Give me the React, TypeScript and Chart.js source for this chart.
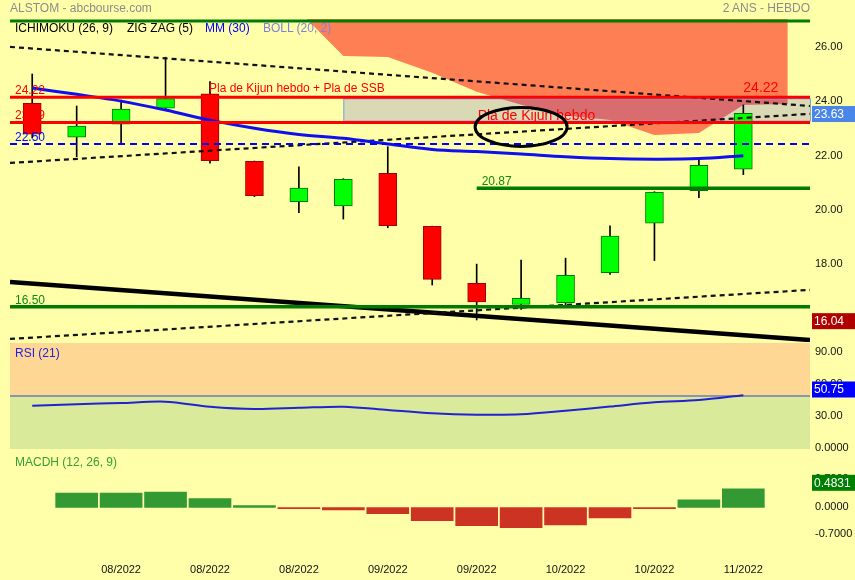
import React, { useEffect, useRef } from "react";
import { Chart, registerables } from "chart.js";

Chart.register(...registerables);

const FONT = '"Liberation Sans", Arial, Helvetica, sans-serif';
const BG = "#FFFFAA";
Chart.defaults.font.family = FONT;

// ---------- data ----------
const weekLabels = [
  "07/2022", "07/2022", "08/2022", "08/2022", "08/2022", "08/2022", "08/2022", "09/2022", "09/2022",
  "09/2022", "09/2022", "10/2022", "10/2022", "10/2022", "10/2022", "10/2022", "11/2022",
];
const opens = [24.0, 22.75, 23.23, 23.82, 24.35, 21.86, 20.37, 20.22, 21.42, 19.46, 17.36, 16.58, 16.65, 17.75, 19.58, 20.78, 21.57];
const highs = [25.08, 23.9, 24.12, 25.7, 24.8, 21.87, 21.66, 21.22, 22.4, 19.47, 18.07, 18.22, 18.29, 19.48, 20.74, 21.91, 23.94];
const lows = [22.72, 22.03, 22.53, 23.75, 21.79, 20.56, 19.97, 19.73, 19.41, 17.3, 16.01, 16.4, 16.56, 17.69, 18.2, 20.52, 21.37];
const closes = [22.86, 23.16, 23.79, 24.17, 21.88, 20.59, 20.87, 21.2, 19.49, 17.51, 16.68, 16.81, 17.66, 19.1, 20.72, 21.71, 23.63];
const mm30 = [24.56, 24.33, 24.08, 23.75, 23.38, 23.08, 22.85, 22.71, 22.5, 22.3, 22.22, 22.13, 22.03, 21.96, 21.94, 21.96, 22.07];
const rsi21 = [40.8, 42.2, 43.4, 44.6, 39.9, 37.7, 38.8, 39.9, 36.8, 33.7, 32.4, 32.7, 36.0, 40.0, 44.0, 46.2, 50.75];
const macdhStart = 1;
const macdh = [0.37, 0.37, 0.4, 0.23, 0.05, -0.03, -0.06, -0.16, -0.34, -0.47, -0.52, -0.45, -0.27, -0.03, 0.2, 0.4831];
const cloudStart = 6;
const cloudUpper = [28.5, 28.5, 28.5, 28.5, 28.5, 28.5, 28.5, 28.5, 28.5, 28.5, 28.5, 28.5];
const cloudLower = [27.4, 25.74, 25.71, 25.13, 24.43, 23.95, 23.55, 23.38, 22.83, 22.9, 23.94, 23.97];
const kijunLevel = 24.22;
const ssbLevel = 23.29;
const blueLevel = 22.5;
const supportLow = 16.5;
const supportMid = 20.87;
const supportMidStart = 10;
const topLevel = 27.03;
const zoneStart = 7;
const channelTop = [26.08, 23.9];
const channelMid = [21.8, 23.61];
const channelLow = [15.31, 17.12];
const zigzagLine = [17.41, 15.27];
const lastClose = 23.63;
const lowMark = 16.04;
const lastHighLabel = 24.22;
const rsiLast = 50.75;
const macdLast = 0.4831;
const xTickIdx = [2, 4, 6, 8, 10, 12, 14, 16];
const priceTicks = [18, 20, 22, 24, 26];
const rsiTicks = [0, 30, 60, 90];
const macdTicks = [-0.7, 0, 0.7];

const X0 = -0.5;
const X1 = 17.5;

// ---------- helpers ----------
const xAxis = (display: boolean) => ({
  type: "linear" as const,
  min: X0,
  max: X1,
  offset: false,
  display,
  grid: { display: false, drawTicks: false },
  border: { display: false },
  ticks: {
    autoSkip: false,
    maxRotation: 0,
    padding: 3,
    color: "#111",
    font: { size: 11, family: FONT },
    callback: (v: any) => weekLabels[v as number] ?? "",
  },
  afterBuildTicks: (s: any) => {
    s.ticks = xTickIdx.map((v) => ({ value: v }));
  },
  afterFit: (s: any) => {
    s.paddingLeft = 0;
    s.paddingRight = 0;
    if (display) s.height = 20;
  },
});

const yAxis = (min: number, max: number, ticks: number[], fmt: (v: number) => string, labelOffset: number) => ({
  type: "linear" as const,
  position: "right" as const,
  min,
  max,
  grid: { display: false, drawTicks: false },
  border: { display: false },
  ticks: {
    padding: 5,
    labelOffset,
    color: "#111",
    font: { size: 11, family: FONT },
    callback: (v: any) => fmt(Number(v)),
  },
  afterBuildTicks: (s: any) => {
    s.ticks = ticks.map((v) => ({ value: v }));
  },
  afterFit: (s: any) => {
    s.width = 45;
    s.paddingTop = 0;
    s.paddingBottom = 0;
  },
});

const span = (y: number, from = X0) => [
  { x: from, y },
  { x: X1, y },
];
const seg = (ab: number[]) => [
  { x: X0, y: ab[0] },
  { x: X1, y: ab[1] },
];

const lineDs = (label: string, data: any[], color: string, width: number, order: number, dash: number[] = [], tension = 0) => ({
  type: "line" as const,
  label,
  data,
  borderColor: color,
  borderWidth: width,
  borderDash: dash,
  pointRadius: 0,
  fill: false,
  tension,
  order,
});

const valueBox = (ctx: CanvasRenderingContext2D, area: any, y: number, text: string, color: string) => {
  ctx.save();
  ctx.fillStyle = color;
  ctx.fillRect(area.right + 2, y - 8, 45, 16);
  ctx.fillStyle = "#fff";
  ctx.font = `12px ${FONT}`;
  ctx.textBaseline = "middle";
  ctx.textAlign = "left";
  ctx.fillText(text, area.right + 4, y + 0.5);
  ctx.restore();
};

// ---------- price chart ----------
function priceConfig(): any {
  const up = closes.map((c, i) => c >= opens[i]);
  const zonePlugin = {
    id: "zone",
    afterDatasetDraw(chart: any, args: any) {
      if (args.index !== 1) return;
      const { ctx, chartArea, scales } = chart;
      const x0 = scales.x.getPixelForValue(zoneStart);
      const y0 = scales.y.getPixelForValue(kijunLevel);
      const y1 = scales.y.getPixelForValue(ssbLevel);
      ctx.save();
      ctx.fillStyle = "rgba(0,0,255,0.15)";
      ctx.fillRect(x0, y0, chartArea.right - x0, y1 - y0);
      ctx.strokeStyle = "#7aa4e6";
      ctx.lineWidth = 1;
      ctx.strokeRect(x0 + 0.5, y0 + 1.5, chartArea.right - x0, y1 - y0 - 3);
      ctx.restore();
    },
  };
  const notesPlugin = {
    id: "notes",
    afterDatasetsDraw(chart: any) {
      const { ctx, chartArea, scales } = chart;
      const X = (v: number) => scales.x.getPixelForValue(v);
      const Y = (v: number) => scales.y.getPixelForValue(v);
      ctx.save();
      ctx.textBaseline = "middle";
      ctx.textAlign = "left";
      ctx.font = `12px ${FONT}`;
      const lx = chartArea.left + 5;
      ctx.fillStyle = "#ff0000";
      ctx.fillText(kijunLevel.toFixed(2), lx, Y(kijunLevel) - 6.5);
      ctx.fillText(ssbLevel.toFixed(2), lx, Y(ssbLevel) - 6.5);
      ctx.fillStyle = "#0000ff";
      ctx.fillText(blueLevel.toFixed(2), lx, Y(blueLevel) - 6.5);
      ctx.fillStyle = "#118811";
      ctx.fillText(supportLow.toFixed(2), lx, Y(supportLow) - 6.5);
      ctx.fillText(supportMid.toFixed(2), X(supportMidStart) + 5, Y(supportMid) - 6.5);
      ctx.fillStyle = "#ff0000";
      ctx.fillText("Pla de Kijun hebdo + Pla de SSB", X(4) - 1, Y(kijunLevel) - 8.5);
      ctx.font = `14px ${FONT}`;
      ctx.fillText("Pla de Kijun hebdo", X(10) + 1, Y(ssbLevel) - 6.5);
      ctx.fillText(lastHighLabel.toFixed(2), X(16), Y(kijunLevel) - 9.5);
      // ellipse
      ctx.beginPath();
      ctx.ellipse(X(11), Y(23.13), 46, 19.5, 0, 0, Math.PI * 2);
      ctx.lineWidth = 3;
      ctx.strokeStyle = "#000";
      ctx.stroke();
      ctx.restore();
    },
    afterDraw(chart: any) {
      const { ctx, chartArea, scales } = chart;
      valueBox(ctx, chartArea, scales.y.getPixelForValue(lastClose) + 0.7, lastClose.toFixed(2), "#4a86e8");
      valueBox(ctx, chartArea, scales.y.getPixelForValue(lowMark) + 2, lowMark.toFixed(2), "#b00000");
    },
  };
  return {
    type: "bar",
    data: {
      datasets: [
        {
          type: "line",
          label: "SSA",
          data: cloudUpper.map((v, k) => ({ x: cloudStart + k, y: v })),
          borderWidth: 0,
          borderColor: "rgba(0,0,0,0)",
          pointRadius: 0,
          fill: false,
          order: 100,
        },
        {
          type: "line",
          label: "SSB",
          data: cloudLower.map((v, k) => ({ x: cloudStart + k, y: v })),
          borderWidth: 0,
          borderColor: "rgba(0,0,0,0)",
          pointRadius: 0,
          fill: "-1",
          backgroundColor: "rgba(255,0,0,0.5)",
          order: 99,
        },
        {
          type: "bar",
          label: "wick",
          data: lows.map((l, i) => ({ x: i, y: [l, highs[i]] })),
          backgroundColor: "#000",
          borderWidth: 0,
          barThickness: 1,
          grouped: false,
          order: 60,
        },
        {
          type: "bar",
          label: "body",
          data: opens.map((o, i) => ({ x: i, y: [o, closes[i]] })),
          backgroundColor: up.map((u) => (u ? "#00ff00" : "#ff0000")),
          borderColor: up.map((u) => (u ? "#007a00" : "#a00000")),
          borderWidth: 1,
          borderSkipped: false,
          barThickness: 18,
          grouped: false,
          order: 59,
        },
        lineDs("channel top", seg(channelTop), "#111", 2.2, 40, [5, 4]),
        lineDs("channel mid", seg(channelMid), "#111", 2.2, 40, [5, 4]),
        lineDs("channel low", seg(channelLow), "#111", 2.2, 40, [5, 4]),
        lineDs("zigzag", seg(zigzagLine), "#000", 4.5, 40),
        lineDs("MM (30)", mm30.map((v, i) => ({ x: i, y: v })), "#1010ee", 3, 30, [], 0.35),
        lineDs("kijun", span(kijunLevel), "#ff0000", 3, 20),
        lineDs("ssb", span(ssbLevel), "#ff0000", 3, 20),
        lineDs("22.50", span(blueLevel), "#0000ff", 2, 20, [7, 5]),
        lineDs("16.50", span(supportLow), "#007a00", 3.5, 20),
        lineDs("20.87", span(supportMid, supportMidStart), "#007a00", 3.5, 20),
        lineDs("top", span(topLevel), "#007a00", 3, 20),
      ],
    },
    options: {
      responsive: false,
      animation: false,
      devicePixelRatio: 1,
      events: [],
      layout: { padding: { left: 10, right: 0, top: 19, bottom: 1 } },
      plugins: { legend: { display: false }, tooltip: { enabled: false } },
      scales: {
        x: xAxis(false),
        y: yAxis(15.198, 27.108, priceTicks, (v) => v.toFixed(2), -2),
      },
    },
    plugins: [zonePlugin, notesPlugin],
  };
}

// ---------- RSI chart ----------
function rsiConfig(): any {
  const bands = {
    id: "bands",
    beforeDatasetsDraw(chart: any) {
      const { ctx, chartArea, scales } = chart;
      const y50 = scales.y.getPixelForValue(50);
      ctx.save();
      ctx.fillStyle = "#FFD795";
      ctx.fillRect(chartArea.left, chartArea.top, chartArea.right - chartArea.left, y50 - chartArea.top);
      ctx.fillStyle = "#D9EA9A";
      ctx.fillRect(chartArea.left, y50, chartArea.right - chartArea.left, chartArea.bottom - y50);
      ctx.strokeStyle = "#8898a8";
      ctx.lineWidth = 2;
      ctx.beginPath();
      ctx.moveTo(chartArea.left, y50);
      ctx.lineTo(chartArea.right, y50);
      ctx.stroke();
      ctx.restore();
    },
    afterDraw(chart: any) {
      const { ctx, chartArea, scales } = chart;
      valueBox(ctx, chartArea, scales.y.getPixelForValue(rsiLast) - 5.7, rsiLast.toFixed(2), "#0000ff");
    },
  };
  return {
    type: "line",
    data: {
      datasets: [lineDs("RSI (21)", rsi21.map((v, i) => ({ x: i, y: v })), "#2222d0", 2, 1, [], 0.3)],
    },
    options: {
      responsive: false,
      animation: false,
      devicePixelRatio: 1,
      events: [],
      layout: { padding: { left: 10, right: 0, top: 0, bottom: 6 } },
      plugins: { legend: { display: false }, tooltip: { enabled: false } },
      scales: {
        x: xAxis(false),
        y: yAxis(0, 100, rsiTicks, (v) => (v === 0 ? "0.0000" : v.toFixed(2)), -1.5),
      },
    },
    plugins: [bands],
  };
}

// ---------- MACD chart ----------
function macdConfig(): any {
  const box = {
    id: "macdbox",
    afterDraw(chart: any) {
      const { ctx, chartArea, scales } = chart;
      valueBox(ctx, chartArea, scales.y.getPixelForValue(macdLast) - 6, macdLast.toFixed(4), "#008000");
    },
  };
  return {
    type: "bar",
    data: {
      datasets: [
        {
          label: "MACDH (12, 26, 9)",
          data: macdh.map((v, k) => ({ x: macdhStart + k, y: v })),
          backgroundColor: macdh.map((v) => (v >= 0 ? "#339933" : "#cc3322")),
          borderWidth: 0,
          barThickness: 42,
          grouped: false,
        },
      ],
    },
    options: {
      responsive: false,
      animation: false,
      devicePixelRatio: 1,
      events: [],
      layout: { padding: { left: 10, right: 0, top: 0, bottom: 0 } },
      plugins: { legend: { display: false }, tooltip: { enabled: false } },
      scales: {
        x: xAxis(true),
        y: yAxis(-1.357, 1.357, macdTicks, (v) => v.toFixed(4), -1),
      },
    },
    plugins: [box],
  };
}

const txt = (left: number, top: number, color: string, text: string, extra: any = {}) => (
  <div
    style={{
      position: "absolute",
      left,
      top,
      color,
      fontSize: 12,
      lineHeight: "14px",
      whiteSpace: "nowrap",
      fontFamily: FONT,
      ...extra,
    }}
  >
    {text}
  </div>
);

export default function App() {
  const priceRef = useRef<HTMLCanvasElement>(null);
  const rsiRef = useRef<HTMLCanvasElement>(null);
  const macdRef = useRef<HTMLCanvasElement>(null);

  useEffect(() => {
    const charts = [
      new Chart(priceRef.current as HTMLCanvasElement, priceConfig()),
      new Chart(rsiRef.current as HTMLCanvasElement, rsiConfig()),
      new Chart(macdRef.current as HTMLCanvasElement, macdConfig()),
    ];
    return () => charts.forEach((c) => c.destroy());
  }, []);

  return (
    <div
      style={{
        position: "fixed",
        left: 0,
        top: 0,
        width: 855,
        height: 580,
        background: BG,
        overflow: "hidden",
        fontFamily: FONT,
      }}
    >
      <canvas ref={priceRef} width={855} height={343} style={{ position: "absolute", left: 0, top: 0 }} />
      <canvas ref={rsiRef} width={855} height={112} style={{ position: "absolute", left: 0, top: 343 }} />
      <canvas ref={macdRef} width={855} height={125} style={{ position: "absolute", left: 0, top: 455 }} />
      {txt(10, 1, "#8c8c8c", "ALSTOM - abcbourse.com")}
      <div
        style={{
          position: "absolute",
          right: 45,
          top: 1,
          color: "#8c8c8c",
          fontSize: 12,
          lineHeight: "14px",
          whiteSpace: "nowrap",
          fontFamily: FONT,
        }}
      >
        2 ANS - HEBDO
      </div>
      {txt(15, 21, "#000", "ICHIMOKU (26, 9)")}
      {txt(127, 21, "#000", "ZIG ZAG (5)")}
      {txt(205, 21, "#0000ff", "MM (30)")}
      {txt(263, 21, "#8080e0", "BOLL (20, 2)")}
      {txt(15, 346, "#2222dd", "RSI (21)")}
      {txt(15, 455, "#33a033", "MACDH (12, 26, 9)")}
    </div>
  );
}
